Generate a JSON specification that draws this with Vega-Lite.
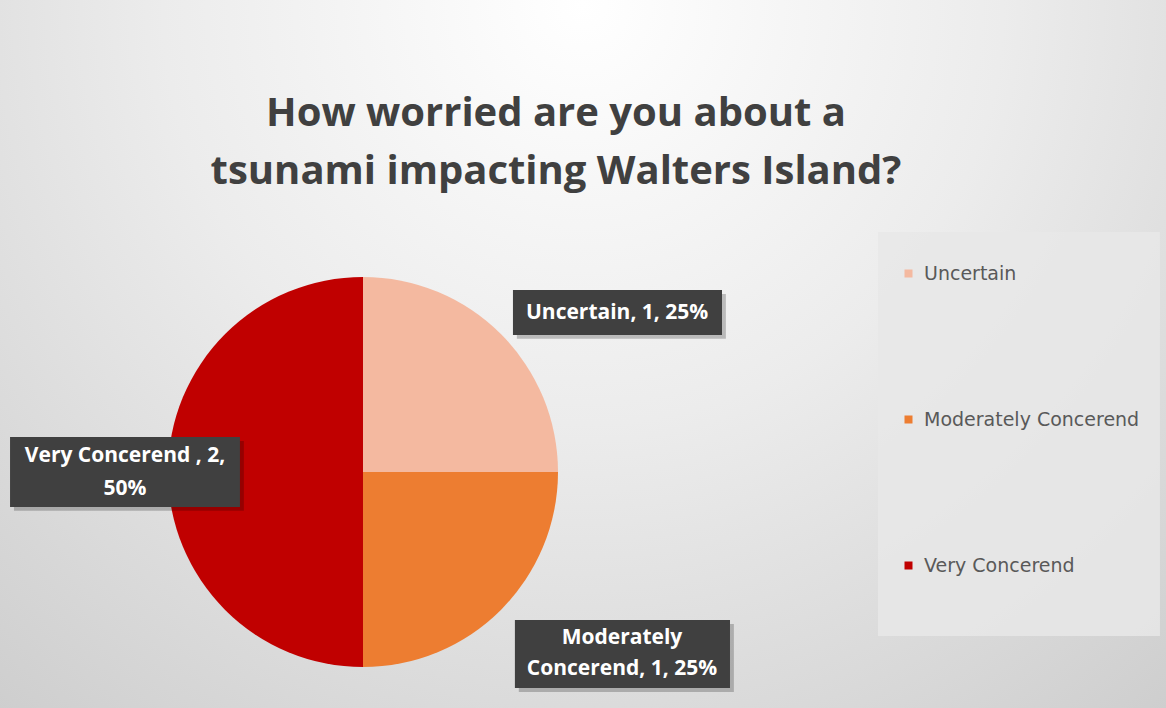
{
  "$schema": "https://vega.github.io/schema/vega-lite/v6.json",
  "autosize": {"type": "fit", "contains": "padding"},
  "width": 1166,
  "height": 708,
  "padding": 0,
  "background": "#dcdcdc",
  "title": {
    "text": ["How worried are you about a", "tsunami impacting Walters Island?"],
    "font": "Open Sans",
    "fontSize": 40,
    "fontWeight": "bold",
    "color": "#404040",
    "lineHeight": 58,
    "anchor": "middle",
    "dx": -27,
    "offset": -192
  },
  "config": {
    "view": {
      "stroke": null,
      "fill": {
        "gradient": "radial",
        "x1": 0.5, "y1": 0.2, "r1": 0,
        "x2": 0.5, "y2": 0.2, "r2": 0.8,
        "stops": [
          {"offset": 0, "color": "#ffffff"},
          {"offset": 0.45, "color": "#ececec"},
          {"offset": 1, "color": "#cdcdcd"}
        ]
      }
    }
  },
  "data": {
    "values": [
      {"category": "Uncertain", "count": 1},
      {"category": "Moderately Concerend", "count": 1},
      {"category": "Very Concerend", "count": 2}
    ]
  },
  "transform": [
    {"joinaggregate": [{"op": "sum", "field": "count", "as": "total"}]},
    {"calculate": "datum.count / datum.total", "as": "pct"},
    {"window": [{"op": "row_number", "as": "idx"}]}
  ],
  "encoding": {
    "x": {"datum": 0, "type": "quantitative", "scale": {"domain": [-1.8615, 4.1179], "nice": false, "zero": false}, "axis": null},
    "y": {"datum": 0, "type": "quantitative", "scale": {"domain": [-1.2103, 2.4205], "nice": false, "zero": false}, "axis": null}
  },
  "layer": [
    {
      "transform": [{"filter": "datum.idx == 1"}],
      "mark": {"type": "rect", "fill": "#e7e7e7", "opacity": 0.85},
      "encoding": {
        "x": {"datum": 2.641, "type": "quantitative"},
        "x2": {"datum": 4.087},
        "y": {"datum": 1.231, "type": "quantitative"},
        "y2": {"datum": -0.841}
      }
    },
    {
      "mark": {"type": "arc", "outerRadius": 195, "strokeWidth": 0},
      "encoding": {
        "theta": {"field": "count", "type": "quantitative", "stack": true},
        "order": {"field": "idx", "type": "quantitative"},
        "color": {
          "field": "category",
          "type": "nominal",
          "scale": {
            "domain": ["Uncertain", "Moderately Concerend", "Very Concerend"],
            "range": ["#F4B9A0", "#ED7D31", "#C00000"]
          },
          "legend": {
            "title": null,
            "orient": "none",
            "legendX": 899,
            "legendY": 264,
            "symbolType": "square",
            "symbolSize": 64,
            "symbolStrokeWidth": 0,
            "labelFont": "DejaVu Sans",
            "labelFontSize": 19,
            "labelColor": "#595959",
            "labelOffset": 6,
            "labelLimit": 300,
            "rowPadding": 126,
            "padding": 0
          }
        }
      }
    },
    {
      "transform": [{"filter": "datum.category == 'Uncertain'"}],
      "layer": [
        {
          "mark": {"type": "rect", "fill": "#000000", "opacity": 0.22},
          "encoding": {
            "x": {"datum": 0.789, "type": "quantitative"},
            "x2": {"datum": 1.861},
            "y": {"datum": 0.913, "type": "quantitative"},
            "y2": {"datum": 0.683}
          }
        },
        {
          "mark": {"type": "rect", "fill": "#404040"},
          "encoding": {
            "x": {"datum": 0.769, "type": "quantitative"},
            "x2": {"datum": 1.841},
            "y": {"datum": 0.933, "type": "quantitative"},
            "y2": {"datum": 0.703}
          }
        },
        {
          "transform": [{"calculate": "datum.category + ', ' + datum.count + ', ' + format(datum.pct, '.0%')", "as": "label"}],
          "mark": {"type": "text", "color": "#ffffff", "font": "Open Sans", "fontWeight": "bold", "fontSize": 21, "align": "center", "baseline": "middle"},
          "encoding": {
            "x": {"datum": 1.303, "type": "quantitative"},
            "y": {"datum": 0.815, "type": "quantitative"},
            "text": {"field": "label"}
          }
        }
      ]
    },
    {
      "transform": [{"filter": "datum.category == 'Moderately Concerend'"}],
      "layer": [
        {
          "mark": {"type": "rect", "fill": "#000000", "opacity": 0.22},
          "encoding": {
            "x": {"datum": 0.799, "type": "quantitative"},
            "x2": {"datum": 1.902},
            "y": {"datum": -0.779, "type": "quantitative"},
            "y2": {"datum": -1.128}
          }
        },
        {
          "mark": {"type": "rect", "fill": "#404040"},
          "encoding": {
            "x": {"datum": 0.779, "type": "quantitative"},
            "x2": {"datum": 1.882},
            "y": {"datum": -0.759, "type": "quantitative"},
            "y2": {"datum": -1.108}
          }
        },
        {
          "transform": [{"calculate": "[split(datum.category, ' ')[0], split(datum.category, ' ')[1] + ', ' + datum.count + ', ' + format(datum.pct, '.0%')]", "as": "label"}],
          "mark": {"type": "text", "color": "#ffffff", "font": "Open Sans", "fontWeight": "bold", "fontSize": 21, "align": "center", "baseline": "middle", "lineHeight": 31, "dy": -15},
          "encoding": {
            "x": {"datum": 1.328, "type": "quantitative"},
            "y": {"datum": -0.928, "type": "quantitative"},
            "text": {"field": "label"}
          }
        }
      ]
    },
    {
      "transform": [{"filter": "datum.category == 'Very Concerend'"}],
      "layer": [
        {
          "mark": {"type": "rect", "fill": "#000000", "opacity": 0.22},
          "encoding": {
            "x": {"datum": -1.790, "type": "quantitative"},
            "x2": {"datum": -0.611},
            "y": {"datum": 0.159, "type": "quantitative"},
            "y2": {"datum": -0.199}
          }
        },
        {
          "mark": {"type": "rect", "fill": "#404040"},
          "encoding": {
            "x": {"datum": -1.810, "type": "quantitative"},
            "x2": {"datum": -0.631},
            "y": {"datum": 0.179, "type": "quantitative"},
            "y2": {"datum": -0.179}
          }
        },
        {
          "transform": [{"calculate": "[datum.category + ' , ' + datum.count + ',', format(datum.pct, '.0%')]", "as": "label"}],
          "mark": {"type": "text", "color": "#ffffff", "font": "Open Sans", "fontWeight": "bold", "fontSize": 21, "align": "center", "baseline": "middle", "lineHeight": 33, "dy": -16},
          "encoding": {
            "x": {"datum": -1.2205, "type": "quantitative"},
            "y": {"datum": 0, "type": "quantitative"},
            "text": {"field": "label"}
          }
        }
      ]
    }
  ]
}
